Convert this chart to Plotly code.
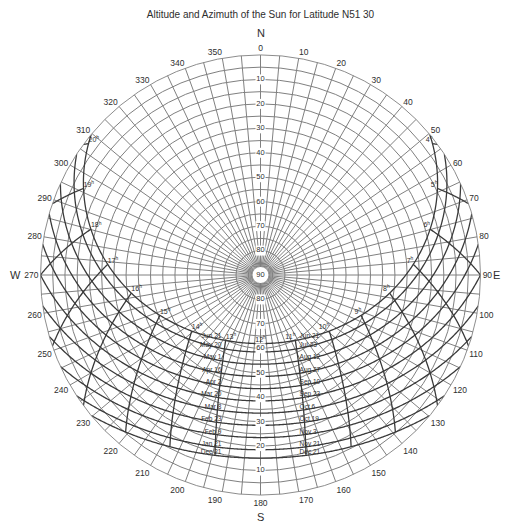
import numpy as np
import plotly.graph_objects as go

# ---------------- data ----------------
LATITUDE = 51.5  # N51 30
DECLINATIONS = [23.44, 20, 15, 10, 5, 0, -5, -10, -15, -20, -23.44]
DATES_WEST = ["Jun 21", "May 20", "May 1", "Apr 16", "Apr 2", "Mar 20",
              "Mar 8", "Feb 23", "Feb 9", "Jan 21", "Dec 21"]
DATES_EAST = ["Jun 21", "Jul 23", "Aug 12", "Aug 27", "Sep 10", "Sep 23",
              "Oct 6", "Oct 19", "Nov 3", "Nov 21", "Dec 21"]
HOURS = [4, 5, 6, 7, 8, 9, 10, 11, 12, 13, 14, 15, 16, 17, 18, 19, 20]
AZ_GRID = list(range(0, 360, 5))
AZ_LABELS = list(range(0, 360, 10))
ALT_GRID = list(range(0, 90, 5))
ALT_LABELS = [10, 20, 30, 40, 50, 60, 70, 80]

GRID = "#808080"
PATH = "#3a3a3a"
TXT = "#2e2e2e"
FONT = "Liberation Sans, Arial, sans-serif"

phi = np.radians(LATITUDE)


def sun(dec_deg, H_deg):
    d = np.radians(dec_deg)
    H = np.radians(H_deg)
    sin_alt = np.sin(phi) * np.sin(d) + np.cos(phi) * np.cos(d) * np.cos(H)
    alt = np.degrees(np.arcsin(np.clip(sin_alt, -1, 1)))
    A = np.arctan2(np.sin(H), np.cos(H) * np.sin(phi) - np.tan(d) * np.cos(phi))
    az = (180 + np.degrees(A)) % 360
    return alt, az


fig = go.Figure()

# date (declination) curves
for dec in DECLINATIONS:
    H0 = np.degrees(np.arccos(np.clip(-np.tan(phi) * np.tan(np.radians(dec)), -1, 1)))
    H = np.linspace(-H0, H0, 361)
    alt, az = sun(dec, H)
    fig.add_trace(go.Scatterpolar(r=90 - np.clip(alt, 0, 90), theta=az, mode="lines",
                                  line=dict(color=PATH, width=1.3), hoverinfo="skip",
                                  showlegend=False))

# hour lines
dmin, dmax = min(DECLINATIONS), max(DECLINATIONS)
for h in HOURS:
    if h == 12:
        continue
    Hd = 15 * (h - 12)
    d0 = np.degrees(np.arctan(-np.cos(np.radians(Hd)) / np.tan(phi)))
    lo = max(d0, dmin)
    if lo >= dmax:
        continue
    decs = np.linspace(lo, dmax, 80)
    alt, az = sun(decs, Hd)
    fig.add_trace(go.Scatterpolar(r=90 - np.clip(alt, 0, 90), theta=az, mode="lines",
                                  line=dict(color=PATH, width=1.3), hoverinfo="skip",
                                  showlegend=False))

# hour labels at the June 21 curve
for h in HOURS:
    alt, az = sun(DECLINATIONS[0], 15 * (h - 12))
    pos = "top right" if h > 12 else ("top left" if h < 12 else "top center")
    fig.add_trace(go.Scatterpolar(r=[90 - max(alt, 0)], theta=[az], mode="text",
                                  text=[f"{h}<sup>h</sup>"], textposition=pos,
                                  textfont=dict(size=7, color=TXT, family=FONT),
                                  hoverinfo="skip", showlegend=False))

# date labels in two columns
COL_EDGE = 16
for side, names in ((-1, DATES_WEST), (1, DATES_EAST)):
    rs, ths = [], []
    for dec in DECLINATIONS:
        H0 = np.degrees(np.arccos(np.clip(-np.tan(phi) * np.tan(np.radians(dec)), -1, 1)))
        H = np.linspace(0, H0, 400) * (-side)
        alt, az = sun(dec, H)
        dx = (90 - alt) * np.sin(np.radians(az))
        Hx = np.interp(side * COL_EDGE, dx if side > 0 else dx[::-1],
                       H if side > 0 else H[::-1])
        a, z = sun(dec, Hx)
        rs.append(90 - a)
        ths.append(z)
    fig.add_trace(go.Scatterpolar(r=rs, theta=ths, mode="text", text=names,
                                  textposition="top left" if side < 0 else "top right",
                                  textfont=dict(size=6.5, color=TXT, family=FONT),
                                  hoverinfo="skip", showlegend=False))

# altitude labels along the N-S line
lab_r = [90 - a for a in ALT_LABELS] * 2
lab_t = [0] * len(ALT_LABELS) + [180] * len(ALT_LABELS)
lab_s = [str(a) for a in ALT_LABELS] * 2
fig.add_trace(go.Scatterpolar(r=lab_r, theta=lab_t, mode="markers+text", text=lab_s,
                              textposition="middle center",
                              marker=dict(symbol="square", size=10, color="white"),
                              textfont=dict(size=7.5, color=TXT, family=FONT),
                              hoverinfo="skip", showlegend=False))
fig.add_trace(go.Scatterpolar(r=[0], theta=[0], mode="markers+text", text=["90"],
                              textposition="middle center",
                              marker=dict(symbol="circle", size=16, color="white"),
                              textfont=dict(size=7.5, color=TXT, family=FONT),
                              hoverinfo="skip", showlegend=False))

compass = dict(xref="paper", yref="paper", showarrow=False,
               xanchor="center", yanchor="middle",
               font=dict(size=11, color=TXT, family=FONT))

fig.update_layout(
    width=501, height=516,
    margin=dict(l=32, r=28, t=47, b=29, autoexpand=False),
    paper_bgcolor="white", plot_bgcolor="white",
    font=dict(family=FONT, color=TXT),
    title=dict(text="Altitude and Azimuth of the Sun for Latitude N51 30",
               x=0.5, xref="paper", xanchor="center", y=0.988, yanchor="middle",
               font=dict(size=10, color=TXT, family=FONT)),
    polar=dict(
        bgcolor="white",
        radialaxis=dict(range=[0, 90], tickvals=[90 - a for a in ALT_GRID],
                        showticklabels=False, ticks="", showline=False,
                        gridcolor=GRID, gridwidth=0.8),
        angularaxis=dict(rotation=90, direction="clockwise",
                         tickvals=AZ_GRID,
                         ticktext=[str(a) if a in AZ_LABELS else "" for a in AZ_GRID],
                         ticks="", showline=True, linecolor=GRID, linewidth=0.9,
                         gridcolor=GRID, gridwidth=0.8,
                         tickfont=dict(size=8.5, color=TXT, family=FONT)),
    ),
    annotations=[
        dict(text="N", x=0.5, y=1.05, **compass),
        dict(text="S", x=0.5, y=-0.05, **compass),
        dict(text="W", x=-0.056, y=0.5, **compass),
        dict(text="E", x=1.035, y=0.5, **compass),
    ],
)

fig.write_html("out.html")
